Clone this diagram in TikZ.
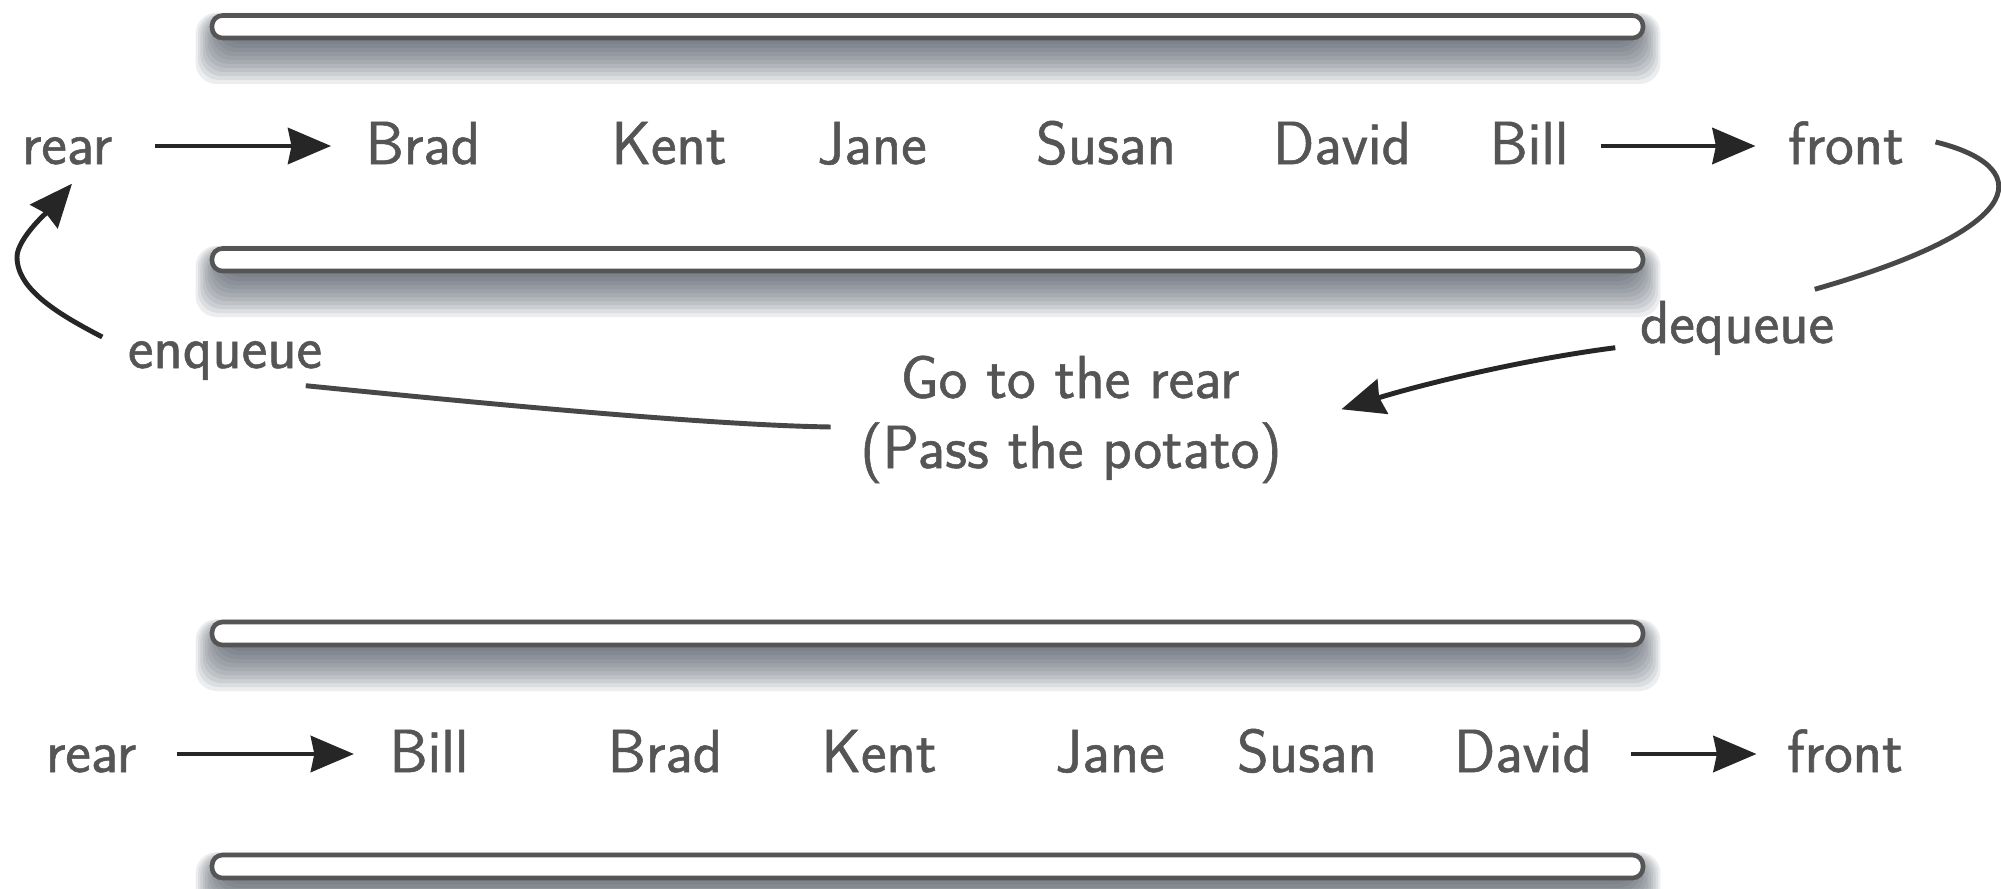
\documentclass[tikz,border=0pt]{standalone}
\usepackage{fontspec}
\usetikzlibrary{arrows.meta}

\newfontfamily\lblfont{Latin Modern Sans}[FakeBold=0.9]

\definecolor{txt}{HTML}{555555}
\definecolor{barline}{HTML}{555555}
\definecolor{shadowc}{HTML}{3F4A55}
\definecolor{crvcol}{HTML}{474747}

% a queue wall: a thin rounded bar with a soft shadow underneath
\newcommand{\queuebar}[2]{%
  \foreach \k in {0,...,11}{%
    \fill[shadowc, opacity=0.095, rounded corners=6pt]
      (222-2.4*\k, #1+6-0.8*\k) rectangle (1634+2.4*\k, #2+2+4*\k);
  }
  \draw[barline, line width=1.3pt, fill=white, rounded corners=3pt]
    (212,#1) rectangle (1643,#2);
}

\begin{document}
\begin{tikzpicture}[x=0.01cm, y=-0.01cm,
  lbl/.style={font=\lblfont\fontsize{17.3}{20}\selectfont, text=txt,
    inner sep=0pt, text height=0.45cm, text depth=0.09cm, anchor=base},
  arr/.style={draw=black!85, line width=1.4pt,
    -{Stealth[length=0.43cm, width=0.36cm, inset=0.035cm]}},
  crv/.style={draw=crvcol, line width=1.4pt}]

\fill[white] (0,0) rectangle (2001,888);
\useasboundingbox (0,0) rectangle (2001,888);
\clip (0,0) rectangle (2001,888);

% walls of the two queues
\queuebar{15.5}{38}
\queuebar{248.5}{271}
\queuebar{622}{645}
\queuebar{855}{878}

% queue before the pass
\node[lbl] (rearA)  at (67,164)   {rear};
\node[lbl] (bradA)  at (423,164)  {Brad};
\node[lbl] (kentA)  at (669,164)  {Kent};
\node[lbl] (janeA)  at (872,164)  {Jane};
\node[lbl] (susanA) at (1106,164) {Susan};
\node[lbl] (davidA) at (1342,164) {David};
\node[lbl] (billA)  at (1529,164) {Bill};
\node[lbl] (frontA) at (1846,164) {front};

\draw[arr, shorten <=0.42cm, shorten >=0.34cm] (rearA.east) -- (bradA.west);
\draw[arr, shorten <=0.32cm, shorten >=0.32cm] (billA.east) -- (frontA.west);

% the pass operation
\node[lbl] (enq)   at (225,368)  {enqueue};
\node[lbl] (deq)   at (1737,343) {dequeue};
\node[lbl] (goto)  at (1070,398) {Go to the rear};
\node[lbl] (passp) at (1071,468) {(Pass the potato)};

\draw[crv] ([shift={(31,-4)}]frontA.east)
  .. controls (2030,165) and (2040,225) .. ([shift={(-20,-8)}]deq.north east);
\draw[arr] ([shift={(-24,-5)}]deq.south west)
  .. controls (1520,360) and (1420,385) .. ([shift={(59,-13)}]passp.north east);
\draw[crv] ([shift={(-29,-23)}]passp.west)
  .. controls (700,425) and (450,400) .. ([shift={(-17,8)}]enq.south east);
\draw[arr] ([shift={(-25,-13)}]enq.west)
  .. controls (60,315) and (17,290) .. (17,257)
  .. controls (17,238) and (52,207) .. ([shift={(5,10)}]rearA.south);

% queue after the pass
\node[lbl] (rearB)  at (91,772)   {rear};
\node[lbl] (billB)  at (429,772)  {Bill};
\node[lbl] (bradB)  at (665,772)  {Brad};
\node[lbl] (kentB)  at (879,772)  {Kent};
\node[lbl] (janeB)  at (1110,772) {Jane};
\node[lbl] (susanB) at (1307,772) {Susan};
\node[lbl] (davidB) at (1523,772) {David};
\node[lbl] (frontB) at (1845,772) {front};

\draw[arr, shorten <=0.40cm, shorten >=0.35cm] (rearB.east) -- (billB.west);
\draw[arr, shorten <=0.38cm, shorten >=0.30cm] (davidB.east) -- (frontB.west);
\end{tikzpicture}
\end{document}
